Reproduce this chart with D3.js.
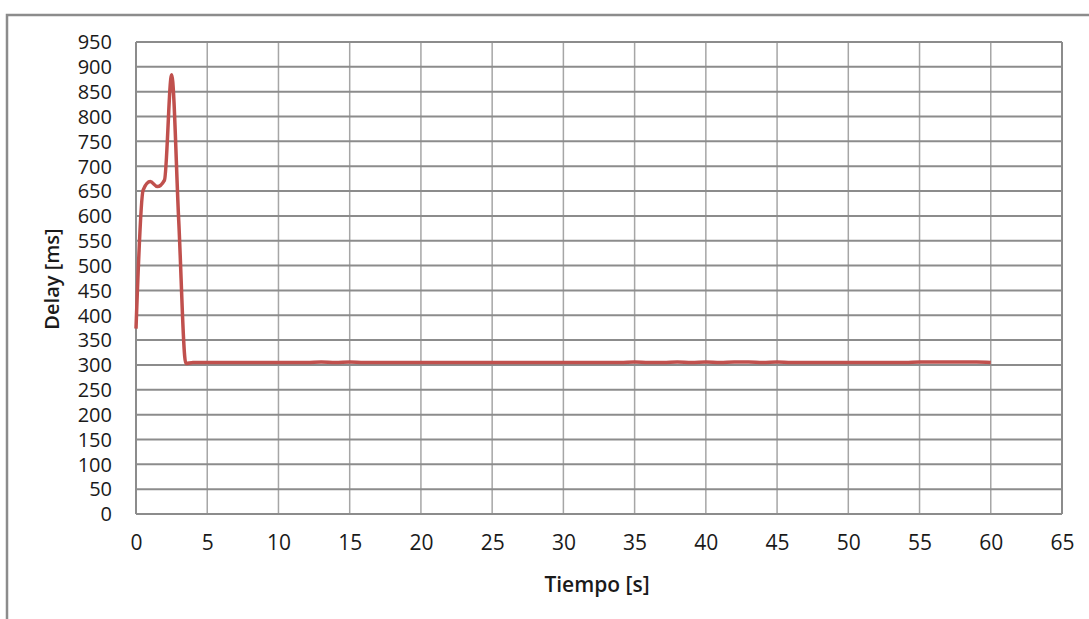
<!DOCTYPE html>
<meta charset="utf-8">
<style>
  body { margin: 0; background: #fff; }
  text { font-family: "Open Sans", "Noto Sans", sans-serif; fill: #1a1a1a; }
</style>
<svg width="1089" height="619"></svg>
<script src="https://d3js.org/d3.v7.min.js"></script>
<script>

// time in seconds
var tiempo = [0, 0.5, 1, 1.5, 2, 2.5, 3, 3.5, 4, 5, 6, 7, 8, 9, 10, 11, 12, 13, 14, 15,
  16, 17, 18, 19, 20, 21, 22, 23, 24, 25, 26, 27, 28, 29, 30, 31, 32, 33, 34, 35,
  36, 37, 38, 39, 40, 41, 42, 43, 44, 45, 46, 47, 48, 49, 50, 51, 52, 53, 54, 55,
  56, 57, 58, 59, 60]

// delay in ms
var delay = [373, 652, 669, 659, 672, 884, 590, 303, 305, 305, 305, 305, 305, 305, 305, 305, 305, 306, 305, 306,
  305, 305, 305, 305, 305, 305, 305, 305, 305, 305, 305, 305, 305, 305, 305, 305, 305, 305, 305, 306,
  305, 305, 306, 305, 306, 305, 306, 306, 305, 306, 305, 305, 305, 305, 305, 305, 305, 305, 305, 306,
  306, 306, 306, 306, 305]

var xTicks = d3.range(0, 66, 5)
var yTicks = d3.range(0, 951, 50)

var svg = d3.select('svg')

// outer chart frame (runs off the right and bottom of the picture)
svg.append('rect')
  .attr('x', 7).attr('y', 15)
  .attr('width', 1200).attr('height', 800)
  .attr('fill', 'none')
  .attr('stroke', '#8c8c8c')
  .attr('stroke-width', 2.5)

var plotLeft = 136, plotRight = 1062, plotTop = 42, plotBottom = 514

var x = d3.scaleLinear().domain([0, 65]).range([plotLeft, plotRight])
var y = d3.scaleLinear().domain([0, 950]).range([plotBottom, plotTop])

var grid = svg.append('g')

// vertical grid lines
grid.selectAll('line.v')
  .data(xTicks)
  .enter().append('line')
  .attr('class', 'v')
  .attr('x1', function (d) { return x(d) })
  .attr('x2', function (d) { return x(d) })
  .attr('y1', plotTop)
  .attr('y2', plotBottom)
  .attr('stroke', function (d) { return d === 0 || d === 65 ? '#8c8c8c' : '#a6a6a6' })
  .attr('stroke-width', function (d) { return d === 0 || d === 65 ? 2 : 1.5 })

// horizontal grid lines
grid.selectAll('line.h')
  .data(yTicks)
  .enter().append('line')
  .attr('class', 'h')
  .attr('x1', plotLeft)
  .attr('x2', plotRight)
  .attr('y1', function (d) { return y(d) })
  .attr('y2', function (d) { return y(d) })
  .attr('stroke', '#8c8c8c')
  .attr('stroke-width', 2)

// axes (labels only)
var yAxis = svg.append('g')
  .attr('transform', 'translate(' + (plotLeft - 24) + ',0)')
  .call(d3.axisLeft(y).tickValues(yTicks).tickSize(0).tickPadding(0))
yAxis.select('.domain').remove()
yAxis.selectAll('text').style('font-size', '20px').attr('dy', '0.34em')

var xAxis = svg.append('g')
  .attr('transform', 'translate(0,' + (plotBottom + 21) + ')')
  .call(d3.axisBottom(x).tickValues(xTicks).tickSize(0).tickPadding(0))
xAxis.select('.domain').remove()
xAxis.selectAll('text').style('font-size', '21px')

// axis titles
svg.append('text')
  .attr('x', (plotLeft + plotRight) / 2 - 2)
  .attr('y', 592)
  .attr('text-anchor', 'middle')
  .style('font-size', '21px')
  .style('font-weight', 600)
  .text('Tiempo [s]')

svg.append('text')
  .attr('transform', 'translate(59,279) rotate(-90)')
  .attr('text-anchor', 'middle')
  .style('font-size', '20px')
  .style('font-weight', 600)
  .text('Delay [ms]')

// data line
var line = d3.line()
  .x(function (d, i) { return x(tiempo[i]) })
  .y(function (d) { return y(d) })
  .curve(d3.curveMonotoneX)

svg.append('path')
  .datum(delay)
  .attr('d', line)
  .attr('fill', 'none')
  .attr('stroke', '#c0504d')
  .attr('stroke-width', 3.5)
  .attr('stroke-linejoin', 'round')

</script>
